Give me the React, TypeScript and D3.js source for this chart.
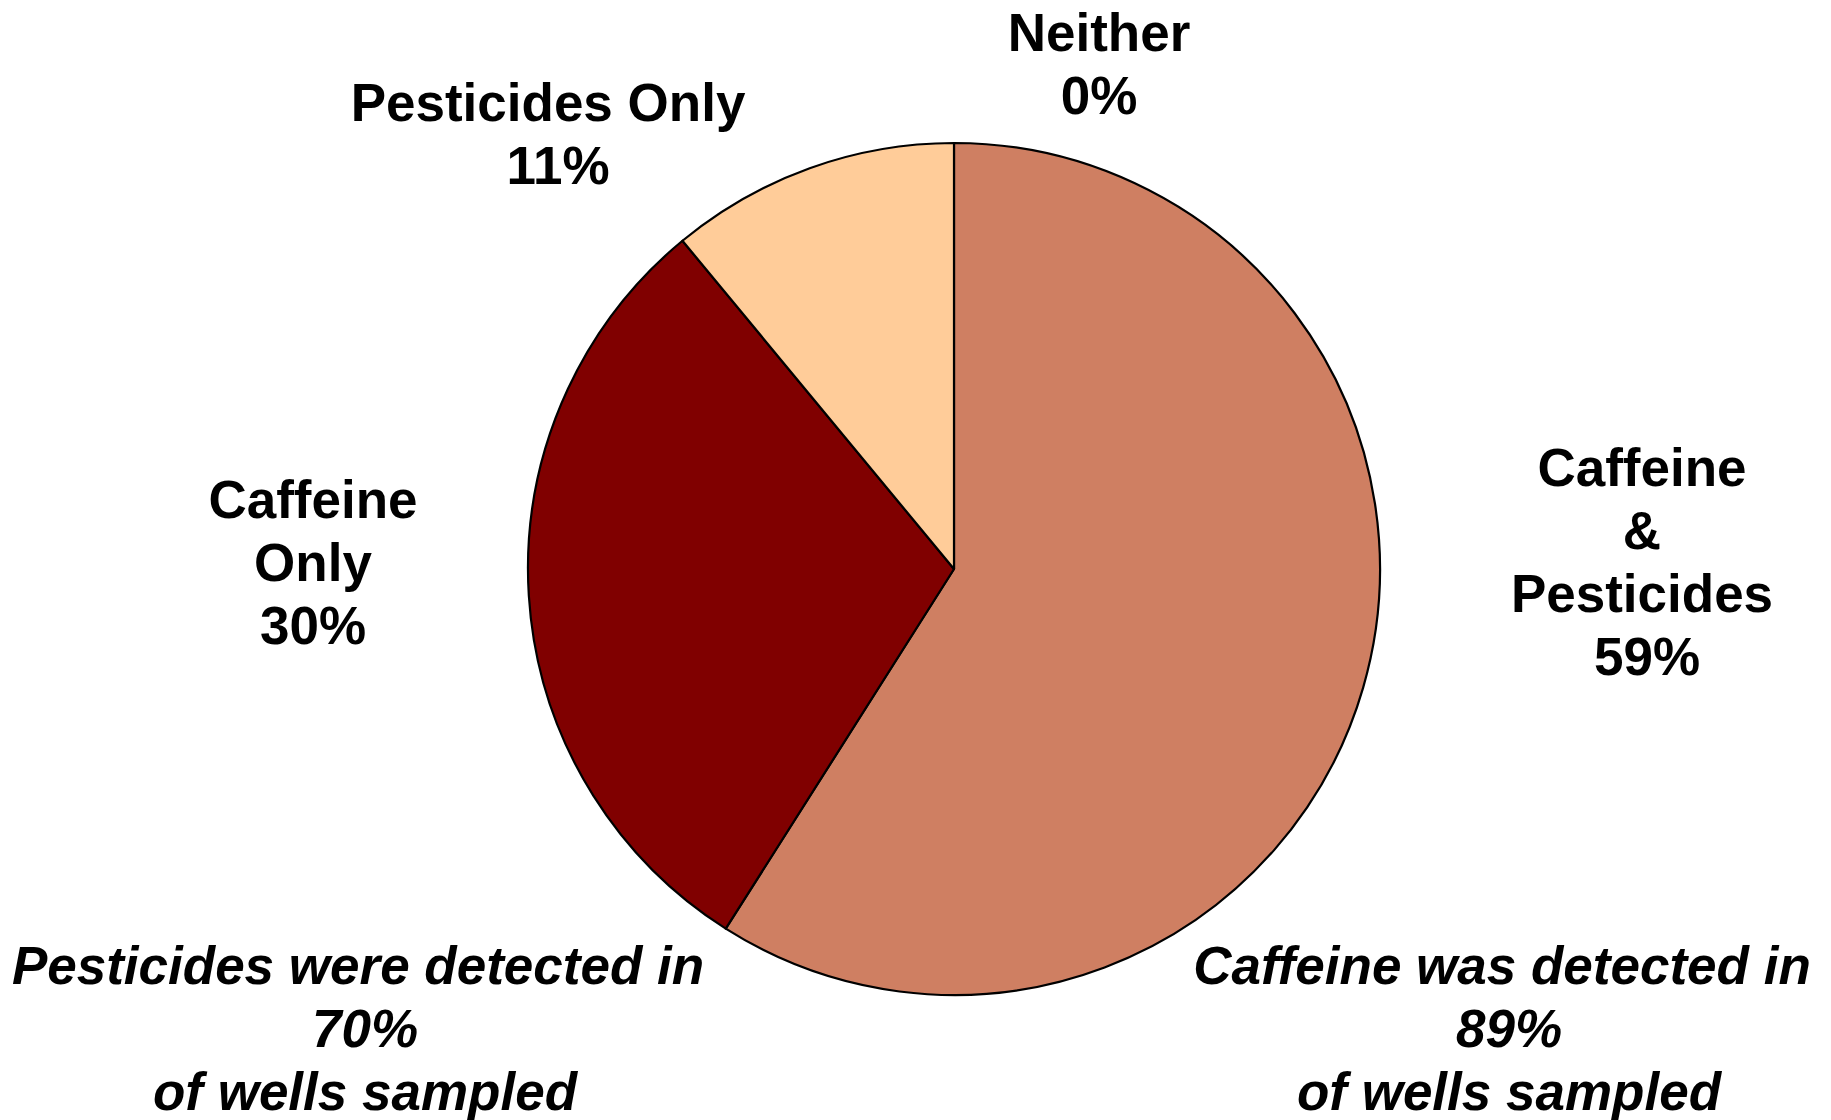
import * as d3 from "d3";
import { useEffect } from "react";

const categories = ["Caffeine & Pesticides", "Caffeine Only", "Pesticides Only", "Neither"];
const shares = [59, 30, 11, 0];
const sliceColors = ["#CF7F62", "#800000", "#FFCC99", "#FFFFFF"];

// label text, line by line
const sliceLabels = [
  ["Caffeine", "&", "Pesticides", "59%"],
  ["Caffeine", "Only", "30%"],
  ["Pesticides Only", "11%"],
  ["Neither", "0%"],
];
const noteLines = [
  ["Pesticides were detected in", "70%", "of wells sampled"],
  ["Caffeine was detected in", "89%", "of wells sampled"],
];

export default function App() {
  const width = 1831;
  const height = 1120;
  const cx = 954;
  const cy = 569;
  const radius = 426;
  const lineH = 63;
  const font = "'Liberation Sans', Arial, sans-serif";

  useEffect(() => {
    document.body.style.margin = "0";
  }, []);

  const pie = d3.pie<number>().sort(null).value((d) => d);
  const arcs = pie(shares);
  const arc = d3.arc<d3.PieArcDatum<number>>().innerRadius(0).outerRadius(radius);

  // where the label blocks sit (first baseline, centre x), small per-line nudges
  const labelPos = [
    { x: 1642, y: 486, dx: [0, 0, 0, 5] },
    { x: 313, y: 518, dx: [0, 0, 0] },
    { x: 548, y: 121, dx: [0, 10] },
    { x: 1099, y: 51, dx: [0, 0] },
  ];
  const notePos = [
    { x: 358, y: 984, dx: [0, 7, 7] },
    { x: 1502, y: 984, dx: [0, 7, 7] },
  ];

  return (
    <svg width={width} height={height} style={{ display: "block", background: "#fff" }}>
      <g transform={`translate(${cx},${cy})`}>
        {arcs
          .filter((a) => a.value > 0)
          .map((a) => (
            <path
              key={categories[a.index]}
              d={arc(a) || ""}
              fill={sliceColors[a.index]}
              stroke="#000"
              strokeWidth={2.2}
              strokeLinejoin="round"
            />
          ))}
      </g>
      {sliceLabels.map((lines, i) => (
        <text
          key={categories[i]}
          textAnchor="middle"
          fontFamily={font}
          fontWeight="bold"
          fontSize={53}
          fill="#000"
        >
          {lines.map((l, j) => (
            <tspan key={j} x={labelPos[i].x + labelPos[i].dx[j]} y={labelPos[i].y + j * lineH}>
              {l}
            </tspan>
          ))}
        </text>
      ))}
      {noteLines.map((lines, i) => (
        <text
          key={"note" + i}
          textAnchor="middle"
          fontFamily={font}
          fontWeight="bold"
          fontStyle="italic"
          fontSize={53}
          fill="#000"
        >
          {lines.map((l, j) => (
            <tspan key={j} x={notePos[i].x + notePos[i].dx[j]} y={notePos[i].y + j * lineH}>
              {l}
            </tspan>
          ))}
        </text>
      ))}
    </svg>
  );
}
